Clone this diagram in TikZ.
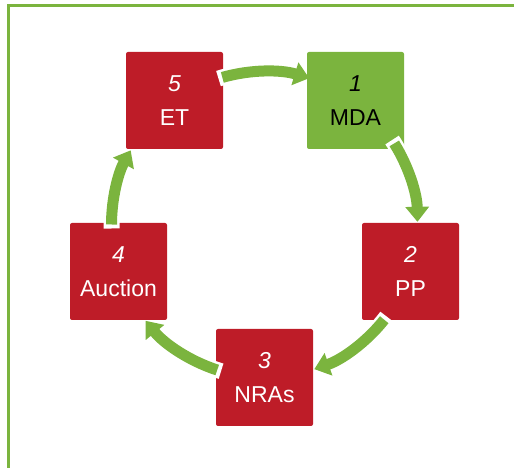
\documentclass[tikz,border=0pt]{standalone}
\usepackage{fontspec}
\setmainfont{Liberation Sans}
\usepackage{xcolor}
\usetikzlibrary{arrows.meta,positioning,calc}
\definecolor{cycred}{RGB}{190,28,40}
\definecolor{cycgreen}{RGB}{123,180,62}
\begin{document}
\begin{tikzpicture}[
    x=1pt, y=1pt,
    stagebox/.style={rectangle, rounded corners=2pt, minimum size=97pt, inner sep=0pt, align=center, fill=cycred, text=white, font=\fontsize{23}{34}\selectfont},
    cycarrow/.style={cycgreen, line width=11pt, -{Triangle[length=15pt,width=23pt]}},
    cycnotch/.style={white, line width=16pt}
]
    \useasboundingbox (0,0) rectangle (514,468);
    % frame
    \draw[cycgreen, line width=3pt] (8.5,0) |- (514,462.5);

    \coordinate (c) at (264.5,243.5);

    \node[stagebox, fill=cycgreen, text=black] (mda) at (355.5,367.5) {\textit{1}\\MDA};
    \node[stagebox] (pp) at (410.5,196.5) {\textit{2}\\PP};
    \node[stagebox] (nras) at (264.5,90.5) {\textit{3}\\NRAs};
    \node[stagebox] (auction) at (118.5,196.5) {\textit{4}\\Auction};
    \node[stagebox] (et) at (174.5,367.5) {\textit{5}\\ET};

    % arrows round the cycle (white notch under each tail)
    \coordinate (et-out) at ([shift={(106:153)}]c);
    \coordinate (mda-out) at ([shift={(32:153)}]c);
    \coordinate (pp-out) at ([shift={(-38.5:153)}]c);
    \coordinate (nras-out) at ([shift={(-108:153)}]c);
    \coordinate (auction-out) at ([shift={(180:153)}]c);

    \draw[cycnotch] ([shift={(107.5:153)}]c) arc[start angle=107.5, end angle=98, radius=153];
    \draw[cycnotch] ([shift={(33.5:153)}]c) arc[start angle=33.5, end angle=24, radius=153];
    \draw[cycnotch] ([shift={(-37:153)}]c) arc[start angle=-37, end angle=-46, radius=153];
    \draw[cycnotch] ([shift={(-106.5:153)}]c) arc[start angle=-106.5, end angle=-116, radius=153];
    \draw[cycnotch] ([shift={(181.5:153)}]c) arc[start angle=181.5, end angle=172, radius=153];

    \draw[cycarrow] (et-out) arc[start angle=106, end angle=73, radius=153];
    \draw[cycarrow] (mda-out) arc[start angle=32, end angle=1, radius=153];
    \draw[cycarrow] (pp-out) arc[start angle=-38.5, end angle=-71, radius=153];
    \draw[cycarrow] (nras-out) arc[start angle=-108, end angle=-141, radius=153];
    \draw[cycarrow] (auction-out) arc[start angle=180, end angle=151, radius=153];
\end{tikzpicture}
\end{document}
